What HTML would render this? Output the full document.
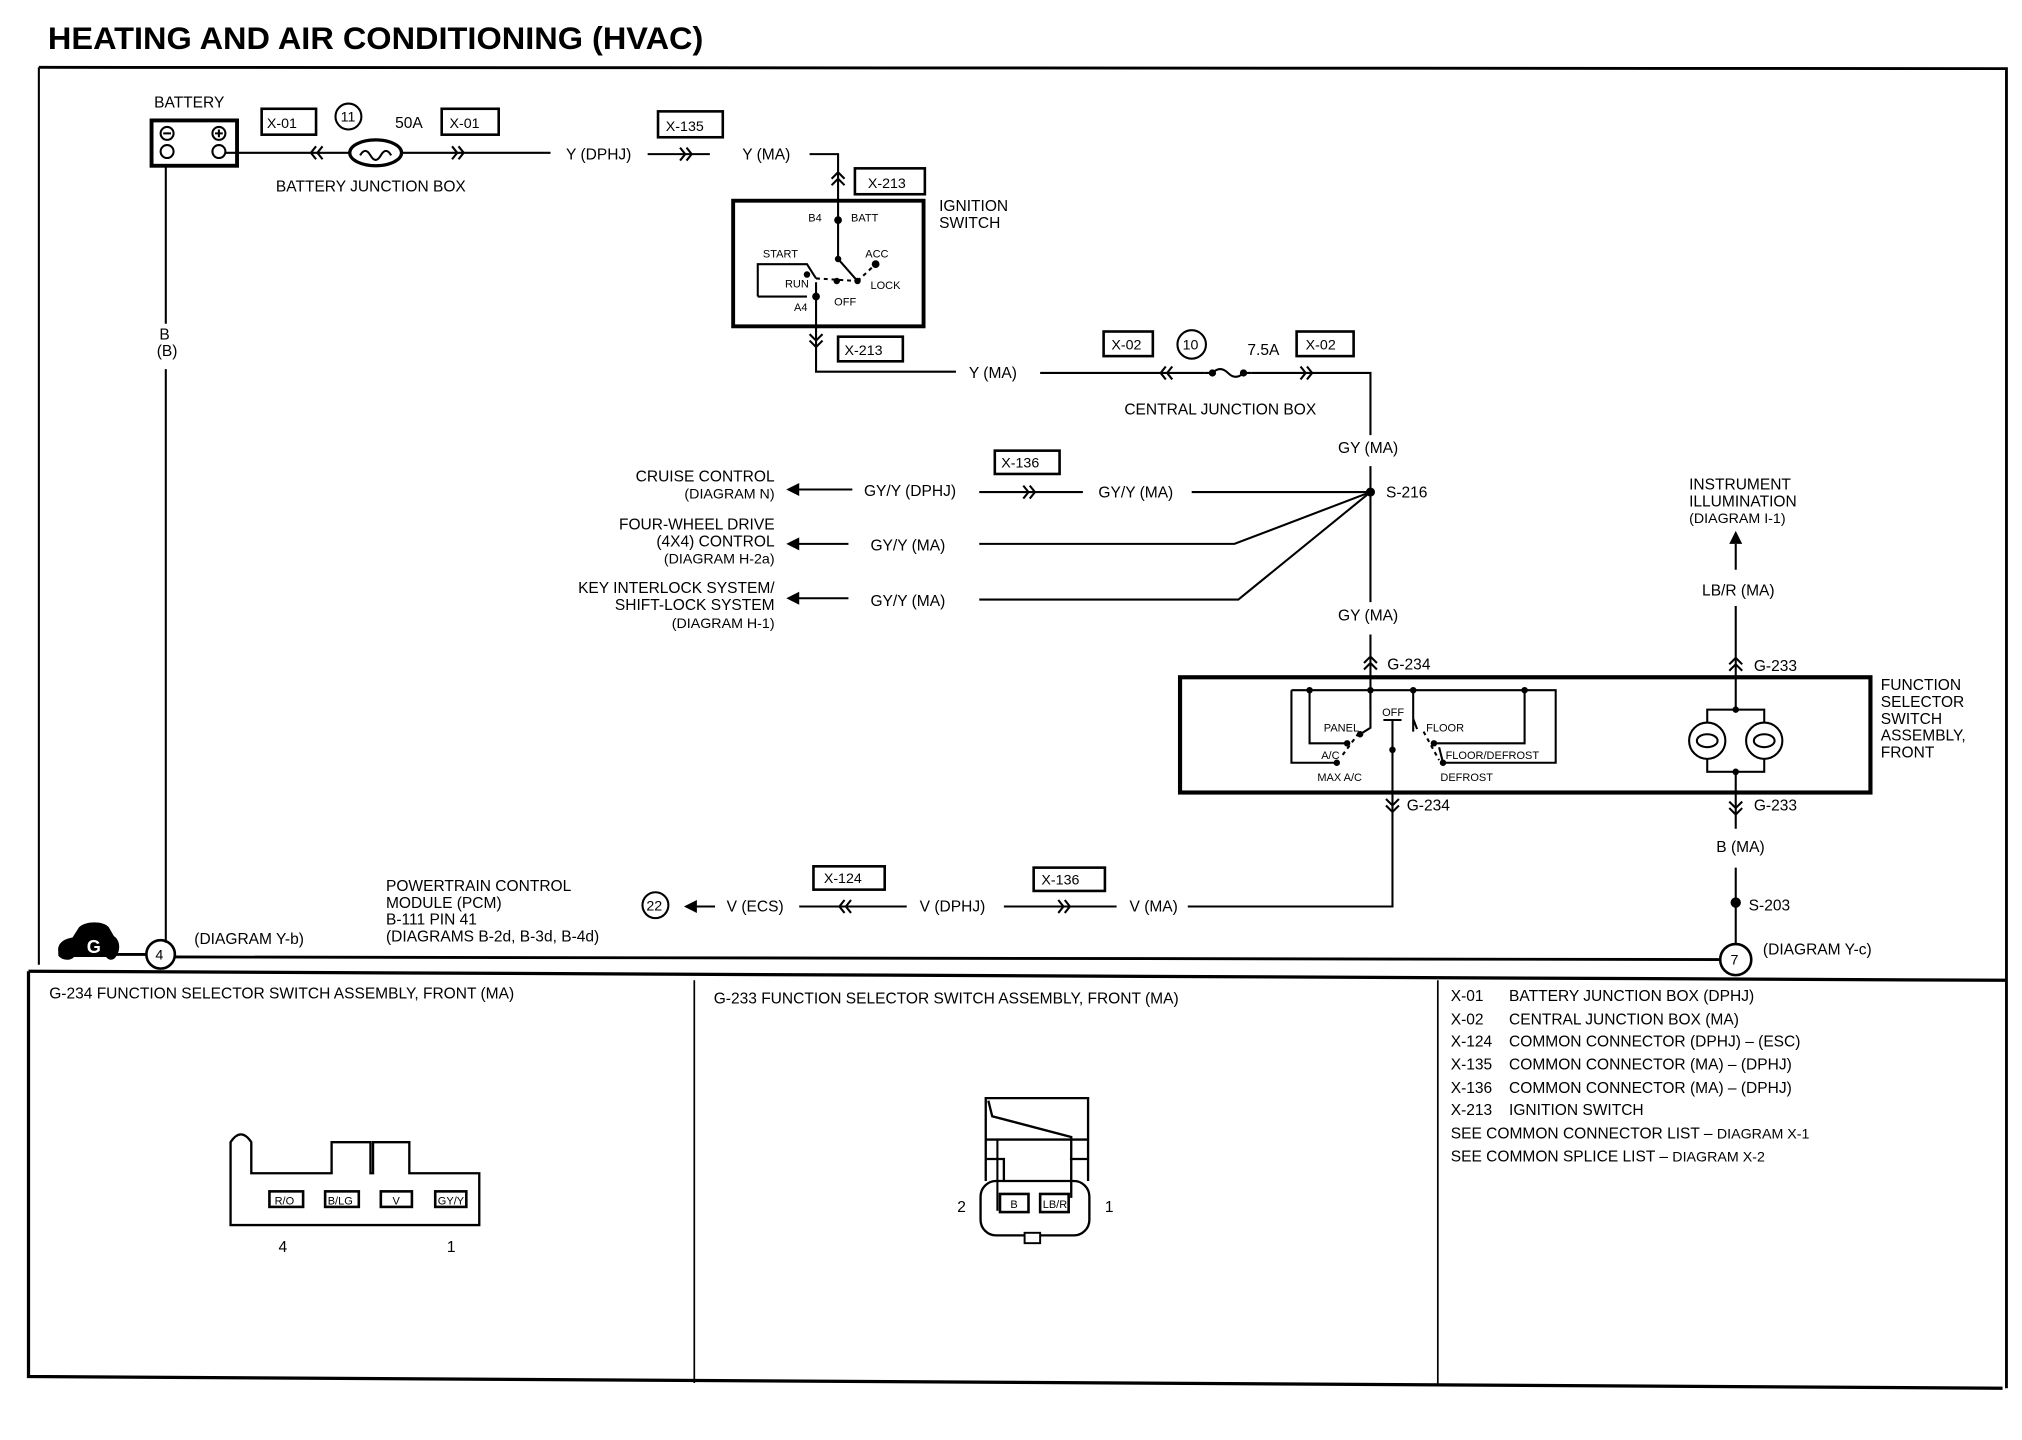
<!DOCTYPE html>
<html><head><meta charset="utf-8"><style>
html,body{margin:0;padding:0;background:#fff;}
svg{display:block;}
text{font-family:"Liberation Sans",sans-serif;font-size:12px;fill:#000;}
.s{font-size:8.5px;}
.m{font-size:11px;}
</style></head><body>
<svg width="2022" height="1440" viewBox="0 0 1561 1112" preserveAspectRatio="none" xmlns="http://www.w3.org/2000/svg">
<g stroke="#000" fill="none" stroke-width="1.6">
<!-- frame -->
<path d="M30,52 L1549,53 L1549,1072" stroke-width="2.2"/>
<path d="M30,52 L30,745" stroke-width="1.6"/>
<path d="M22,750 L1549,757" stroke-width="2.5"/>
<path d="M22,750 L22,1063 L1546,1072" stroke-width="2.5"/>
<path d="M536,757 L536,1068 M1110,757 L1110,1070" stroke-width="1.3"/>

<!-- battery -->
<rect x="117" y="93" width="66" height="35" stroke-width="3"/>
<circle cx="129" cy="103" r="5"/><path d="M126,103 h6"/>
<circle cx="169" cy="103" r="5"/><path d="M166,103 h6 M169,100 v6"/>
<circle cx="129" cy="117" r="5"/><circle cx="169" cy="117" r="5"/>
<path d="M174,118 L425,118"/>
<path d="M244,113 l-4,5 l4,5 M249,113 l-4,5 l4,5"/>
<path d="M349,113 l4,5 l-4,5 M354,113 l4,5 l-4,5"/>
<ellipse cx="290" cy="118" rx="20" ry="10" fill="#fff" stroke-width="2.5"/>
<path d="M278,120 q4,-7 8,0 q4,7 8,0 q4,-7 8,0"/>
<rect x="202" y="84" width="42" height="20" stroke-width="2"/>
<rect x="341" y="84" width="44" height="20" stroke-width="2"/>
<circle cx="269" cy="90" r="10"/>
<!-- to ignition -->
<path d="M500,119 L548,119"/>
<path d="M525,114 l4,5 l-4,5 M530,114 l4,5 l-4,5"/>
<rect x="508" y="86" width="50" height="20" stroke-width="2"/>
<path d="M625,119 L647,119 L647,200 L662,217"/>
<path d="M642,138 l5,-5 l5,5 M642,143 l5,-5 l5,5"/>
<rect x="660" y="130" width="54" height="20" stroke-width="2"/>
<rect x="566" y="155" width="147" height="97" stroke-width="3"/>
<path d="M585,229 L585,204 L623,204 L630,215" />
<path d="M585,229 L623,229"/>
<path d="M630,215 L662,217 M662,217 L676,204" stroke-dasharray="3,3"/>
<path d="M630,218 L630,287 L738,287"/>
<path d="M625,258 l5,5 l5,-5 M625,263 l5,5 l5,-5"/>
<rect x="647" y="260" width="50" height="19" stroke-width="2"/>
<!-- central junction -->
<path d="M803,288 L930,288 M966,288 L1058,288 L1058,336"/>
<path d="M900,283 l-4,5 l4,5 M905,283 l-4,5 l4,5"/>
<path d="M1004,283 l4,5 l-4,5 M1009,283 l4,5 l-4,5"/>
<path d="M930,288 L936,288 q6,-6 12,0 q6,6 12,0 L966,288"/>
<circle cx="936" cy="288" r="2" fill="#000"/><circle cx="960" cy="288" r="2" fill="#000"/>
<rect x="852" y="256" width="38" height="19" stroke-width="2"/>
<rect x="1001" y="256" width="44" height="19" stroke-width="2"/>
<circle cx="920" cy="266" r="11"/>
<path d="M1058,360 L1058,465 M1058,490 L1058,548"/>
<path d="M1058,380 L920,380 M836,380 L756,380 M658,378 L614,378"/>
<path d="M790,375 l4,5 l-4,5 M795,375 l4,5 l-4,5"/>
<rect x="768" y="348" width="50" height="18" stroke-width="2"/>
<path d="M1058,380 L953,420 L756,420 M655,420 L614,420"/>
<path d="M1058,380 L956,463 L756,463 M655,462 L614,462"/>
<path d="M1053,517 l5,-5 l5,5 M1053,512 l5,-5 l5,5"/>
<!-- function selector -->
<rect x="911" y="523" width="533" height="89" stroke-width="3.2"/>
<path d="M997,533 L1201,533 L1201,589 L1114,589 L1111,577"/>
<path d="M997,533 L997,589 L1032,589"/>
<path d="M1011,533 L1011,574 L1040,574"/>
<path d="M1091,533 L1091,565 M1091,555 L1094,563"/>
<path d="M1177,533 L1177,574 L1107,574"/>
<path d="M1058,533 L1058,562 L1050,567"/>
<path d="M1049,566 L1035,585 M1099,565 L1111,587" stroke-dasharray="3,3"/>
<path d="M1068,556 L1082,556 M1075,556 L1075,700 L917,700"/>
<path d="M1070,617 l5,5 l5,-5 M1070,622 l5,5 l5,-5"/>
<path d="M862,700 L775,700 M700,700 L617,700 M552,700 L532,700"/>
<path d="M817,695 l4,5 l-4,5 M822,695 l4,5 l-4,5"/>
<path d="M652,695 l-4,5 l4,5 M657,695 l-4,5 l4,5"/>
<rect x="798" y="670" width="55" height="18" stroke-width="2"/>
<rect x="628" y="669" width="55" height="18" stroke-width="2"/>
<circle cx="506" cy="699" r="10"/>
<!-- right side -->
<path d="M1340,420 L1340,440 M1340,468 L1340,548"/>
<path d="M1335,518 l5,-5 l5,5 M1335,513 l5,-5 l5,5"/>
<rect x="1318" y="548" width="44" height="48"/>
<circle cx="1318" cy="572" r="14" fill="#fff"/>
<circle cx="1362" cy="572" r="14" fill="#fff"/>
<ellipse cx="1318" cy="572" rx="8" ry="5"/>
<ellipse cx="1362" cy="572" rx="8" ry="5"/>
<path d="M1340,596 L1340,640 M1340,670 L1340,729"/>
<path d="M1335,619 l5,5 l5,-5 M1335,624 l5,5 l5,-5"/>
<circle cx="1340" cy="741" r="12" stroke-width="2"/>
<!-- ground -->
<path d="M128,128 L128,250 M128,285 L128,728"/>
<circle cx="124" cy="737" r="11" stroke-width="2"/>
<path d="M88,737 L113,737 M135,739 L1328,741" stroke-width="2.2"/>
<!-- bottom connectors -->
<path d="M178,946 L178,882 Q186,870 194,882 L194,906 L256,906 L256,882 L286,882 L286,906 L288,906 L288,882 L316,882 L316,906 L370,906 L370,946 Z" stroke-width="1.8"/>
<rect x="208" y="920" width="26" height="12" stroke-width="2"/>
<rect x="251" y="920" width="26" height="12" stroke-width="2"/>
<rect x="294" y="920" width="24" height="12" stroke-width="2"/>
<rect x="336" y="920" width="24" height="12" stroke-width="2"/>
<path d="M761,912 L761,848 L840,848 L840,912" stroke-width="1.8"/>
<path d="M763,850 L766,862 L827,878 L827,925" stroke-width="1.8"/>
<path d="M761,880 L840,880 M761,895 L775,895 L775,912 M840,895 L826,895" stroke-width="1.8"/>
<path d="M770,880 L770,935"/>
<rect x="757" y="912" width="84" height="42" rx="12" stroke-width="1.8"/>
<rect x="791" y="952" width="12" height="8" fill="#fff" stroke-width="1.5"/>
<rect x="772" y="922" width="22" height="14" stroke-width="2"/>
<rect x="803" y="922" width="22" height="14" stroke-width="2"/>
</g>
<g fill="#000">
<circle cx="647" cy="170" r="3"/><circle cx="647" cy="200" r="2.5"/><circle cx="676" cy="204" r="3"/>
<circle cx="630" cy="229" r="3"/><circle cx="646" cy="217" r="2.5"/><circle cx="662" cy="217" r="2.5"/><circle cx="623" cy="212" r="2.5"/>
<circle cx="1058" cy="380" r="3.5"/>
<circle cx="1011" cy="533" r="2.5"/><circle cx="1058" cy="533" r="2.5"/><circle cx="1091" cy="533" r="2.5"/><circle cx="1177" cy="533" r="2.5"/>
<circle cx="1075" cy="579" r="2.5"/><circle cx="1050" cy="567" r="2.5"/><circle cx="1040" cy="574" r="2.5"/><circle cx="1107" cy="574" r="2.5"/><circle cx="1032" cy="589" r="2.5"/><circle cx="1114" cy="589" r="2.5"/>
<circle cx="1340" cy="548" r="2.5"/><circle cx="1340" cy="596" r="2.5"/>
<circle cx="1340" cy="697" r="4"/>
<path d="M607,378 l10,-5 v10 z M607,420 l10,-5 v10 z M607,462 l10,-5 v10 z M528,700 l10,-5 v10 z M1340,410 l-5,10 h10 z"/>
<path d="M45,735 C44,728 50,725 56,724 L61,716 C66,711 80,711 84,716 L88,723 C93,726 93,734 90,738 C88,742 84,742 82,739 L57,739 C55,742 48,742 45,738 Z"/>
</g>
<text x="37" y="38" style="font-size:24px;font-weight:bold" textLength="506" lengthAdjust="spacingAndGlyphs">HEATING AND AIR CONDITIONING (HVAC)</text>
<text x="119" y="83">BATTERY</text>
<text x="206" y="99" class="m">X-01</text>
<text x="263" y="94" class="m">11</text>
<text x="305" y="99">50A</text>
<text x="347" y="99" class="m">X-01</text>
<text x="213" y="148">BATTERY JUNCTION BOX</text>
<text x="437" y="123">Y (DPHJ)</text>
<text x="514" y="101" class="m">X-135</text>
<text x="573" y="123">Y (MA)</text>
<text x="670" y="145" class="m">X-213</text>
<text x="725" y="163">IGNITION</text>
<text x="725" y="176">SWITCH</text>
<text x="624" y="171" class="s">B4</text>
<text x="657" y="171" class="s">BATT</text>
<text x="589" y="199" class="s">START</text>
<text x="668" y="199" class="s">ACC</text>
<text x="606" y="222" class="s">RUN</text>
<text x="672" y="223" class="s">LOCK</text>
<text x="613" y="240" class="s">A4</text>
<text x="644" y="236" class="s">OFF</text>
<text x="652" y="274" class="m">X-213</text>
<text x="748" y="292">Y (MA)</text>
<text x="858" y="270" class="m">X-02</text>
<text x="913" y="270" class="m">10</text>
<text x="963" y="274">7.5A</text>
<text x="1008" y="270" class="m">X-02</text>
<text x="868" y="320">CENTRAL JUNCTION BOX</text>
<text x="1033" y="350">GY (MA)</text>
<text x="1070" y="384">S-216</text>
<text x="773" y="361" class="m">X-136</text>
<text x="848" y="384">GY/Y  (MA)</text>
<text x="667" y="383">GY/Y  (DPHJ)</text>
<text x="598" y="372" text-anchor="end">CRUISE CONTROL</text>
<text x="598" y="385" text-anchor="end" class="m">(DIAGRAM N)</text>
<text x="672" y="425">GY/Y  (MA)</text>
<text x="598" y="409" text-anchor="end">FOUR-WHEEL DRIVE</text>
<text x="598" y="422" text-anchor="end">(4X4) CONTROL</text>
<text x="598" y="435" text-anchor="end" class="m">(DIAGRAM H-2a)</text>
<text x="672" y="468">GY/Y  (MA)</text>
<text x="598" y="458" text-anchor="end">KEY INTERLOCK SYSTEM/</text>
<text x="598" y="471" text-anchor="end">SHIFT-LOCK SYSTEM</text>
<text x="598" y="485" text-anchor="end" class="m">(DIAGRAM H-1)</text>
<text x="1033" y="479">GY (MA)</text>
<text x="1071" y="517">G-234</text>
<text x="1022" y="565" class="s">PANEL</text>
<text x="1067" y="553" class="s">OFF</text>
<text x="1101" y="565" class="s">FLOOR</text>
<text x="1020" y="586" class="s">A/C</text>
<text x="1116" y="586" class="s">FLOOR/DEFROST</text>
<text x="1017" y="603" class="s">MAX A/C</text>
<text x="1112" y="603" class="s">DEFROST</text>
<text x="1452" y="533">FUNCTION</text>
<text x="1452" y="546">SELECTOR</text>
<text x="1452" y="559">SWITCH</text>
<text x="1452" y="572">ASSEMBLY,</text>
<text x="1452" y="585">FRONT</text>
<text x="1086" y="626">G-234</text>
<text x="872" y="704">V (MA)</text>
<text x="804" y="683" class="m">X-136</text>
<text x="710" y="704">V (DPHJ)</text>
<text x="636" y="682" class="m">X-124</text>
<text x="561" y="704">V (ECS)</text>
<text x="499" y="703" class="m">22</text>
<text x="298" y="688">POWERTRAIN CONTROL</text>
<text x="298" y="701">MODULE (PCM)</text>
<text x="298" y="714">B-111 PIN 41</text>
<text x="298" y="727">(DIAGRAMS  B-2d, B-3d, B-4d)</text>
<text x="1304" y="378">INSTRUMENT</text>
<text x="1304" y="391">ILLUMINATION</text>
<text x="1304" y="404" class="m">(DIAGRAM I-1)</text>
<text x="1314" y="460">LB/R (MA)</text>
<text x="1354" y="518">G-233</text>
<text x="1354" y="626">G-233</text>
<text x="1325" y="658">B (MA)</text>
<text x="1350" y="703">S-203</text>
<text x="1336" y="745" class="m">7</text>
<text x="1361" y="737">(DIAGRAM Y-c)</text>
<text x="123" y="262">B</text>
<text x="121" y="275">(B)</text>
<text x="120" y="741" class="m">4</text>
<text x="150" y="729">(DIAGRAM Y-b)</text>
<text x="67" y="736" style="font-size:14px;font-weight:bold;fill:#fff">G</text>
<text x="38" y="771">G-234   FUNCTION SELECTOR SWITCH  ASSEMBLY, FRONT (MA)</text>
<text x="551" y="775">G-233   FUNCTION SELECTOR SWITCH ASSEMBLY, FRONT (MA)</text>
<text x="212" y="930" class="s">R/O</text>
<text x="253" y="930" class="s">B/LG</text>
<text x="303" y="930" class="s">V</text>
<text x="338" y="930" class="s">GY/Y</text>
<text x="215" y="967">4</text>
<text x="345" y="967">1</text>
<text x="780" y="933" class="s">B</text>
<text x="805" y="933" class="s">LB/R</text>
<text x="739" y="936">2</text>
<text x="853" y="936">1</text>
<text x="1120" y="773">X-01</text><text x="1165" y="773">BATTERY JUNCTION BOX (DPHJ)</text>
<text x="1120" y="791">X-02</text><text x="1165" y="791">CENTRAL JUNCTION BOX (MA)</text>
<text x="1120" y="808">X-124</text><text x="1165" y="808">COMMON CONNECTOR (DPHJ) – (ESC)</text>
<text x="1120" y="826">X-135</text><text x="1165" y="826">COMMON CONNECTOR (MA) – (DPHJ)</text>
<text x="1120" y="844">X-136</text><text x="1165" y="844">COMMON CONNECTOR (MA) – (DPHJ)</text>
<text x="1120" y="861">X-213</text><text x="1165" y="861">IGNITION SWITCH</text>
<text x="1120" y="879">SEE COMMON CONNECTOR LIST – <tspan class="m">DIAGRAM X-1</tspan></text>
<text x="1120" y="897">SEE COMMON SPLICE LIST – <tspan class="m">DIAGRAM X-2</tspan></text>
</svg>
</body></html>
